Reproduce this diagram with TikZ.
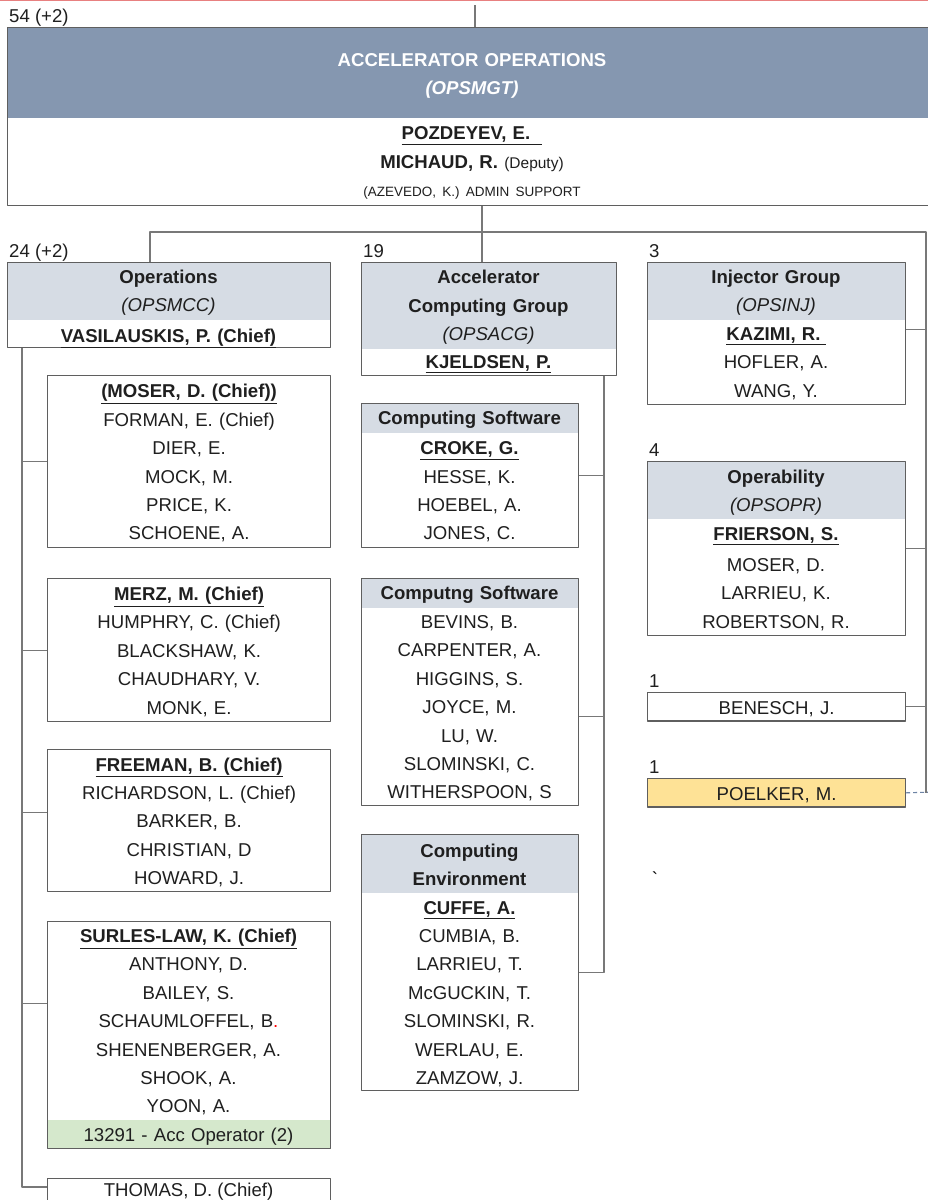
\documentclass[tikz,border=0pt]{standalone}
\usepackage{fontspec}
\setmainfont{Liberation Sans}
\definecolor{mgtblue}{RGB}{133,151,176}
\definecolor{hdrgray}{RGB}{214,220,228}
\definecolor{accgreen}{RGB}{213,232,204}
\definecolor{vacyellow}{RGB}{254,226,150}
\definecolor{linegray}{RGB}{120,120,120}
\definecolor{boxgray}{RGB}{95,95,95}
\definecolor{topred}{RGB}{232,128,128}
\definecolor{dashblue}{RGB}{110,132,165}
\newcommand\rowstrut{\rule[-7pt]{0pt}{28.4pt}}
\newcommand\chief[1]{\underline{\textbf{#1}}}
\tikzset{
  box/.style={draw=boxgray, line width=1.2pt, inner sep=0pt, anchor=north west},
  band/.style 2 args={path picture={\fill[#2] (path picture bounding box.north west) rectangle ([yshift=-#1pt]path picture bounding box.north east);}},
  hdr/.style={band={#1}{hdrgray}},
  foot/.style={path picture={\fill[accgreen] (path picture bounding box.south west) rectangle ([yshift=#1pt]path picture bounding box.south east);}},
  txt/.style={font=\fontsize{18.6}{28.4}\selectfont, text width=250pt, align=center, inner sep=0pt, text=black!88,
    execute at begin node=\rowstrut, execute at end node=\rowstrut},
  cnt/.style={font=\fontsize{18.6}{22}\selectfont, anchor=south west, inner sep=2pt, text depth=2.5pt, text=black!88},
  conn/.style={draw=linegray, line width=1.1pt},
}
\begin{document}
\begin{tikzpicture}[x=1pt, y=-1pt, line join=round]
\useasboundingbox (0,0) rectangle (928,1200);
\clip (0,0) rectangle (928,1200);
\fill[white] (0,0) rectangle (928,1200);
\draw[topred, line width=1.5pt] (0,0.6) -- (928,0.6);

% management box
\node[box, band={90}{mgtblue}, minimum width=930, minimum height=178, label={[cnt]north west:54 (+2)}] (mgt) at (7,27) {};
\node[txt, text=white, text width=320pt] (mgthead) at (472,73) {\textbf{ACCELERATOR OPERATIONS}\\\textbf{\textit{(OPSMGT)}}};
\node[txt] (mgtbody) at (472,161) {\chief{POZDEYEV, E.\hspace{12pt}}\\\textbf{MICHAUD, R.} {\fontsize{15.5}{18}\selectfont(Deputy)}\\{\fontsize{13.5}{16}\selectfont(AZEVEDO, K.) ADMIN SUPPORT}};

% operations
\node[box, hdr=57, minimum width=323, minimum height=85, label={[cnt]north west:24 (+2)}] (ops) at (7,262) {};
\node[txt] (opshead) at (168.5,290.5) {\textbf{Operations}\\\textit{(OPSMCC)}};
\node[txt] (opsbody) at (168.5,335) {\chief{VASILAUSKIS, P. (Chief)}};
\node[box, txt, text width=283pt, minimum height=172] (mos) at (47,375) {\chief{(MOSER, D. (Chief))}\\FORMAN, E. (Chief)\\DIER, E.\\MOCK, M.\\PRICE, K.\\SCHOENE, A.};
\node[box, txt, text width=283pt, minimum height=143] (mer) at (47,578) {\chief{MERZ, M. (Chief)}\\HUMPHRY, C. (Chief)\\BLACKSHAW, K.\\CHAUDHARY, V.\\MONK, E.};
\node[box, txt, text width=283pt, minimum height=142] (fre) at (47,749) {\chief{FREEMAN, B. (Chief)}\\RICHARDSON, L. (Chief)\\BARKER, B.\\CHRISTIAN, D\\HOWARD, J.};
\node[box, foot=29, minimum width=283, minimum height=227] (sur) at (47,921) {};
\node[txt] (surbody) at (188.5,1020.5) {\chief{SURLES-LAW, K. (Chief)}\\ANTHONY, D.\\BAILEY, S.\\SCHAUMLOFFEL, B\textcolor{red}{.}\\SHENENBERGER, A.\\SHOOK, A.\\YOON, A.};
\node[txt] (surfoot) at (188.5,1134) {13291 - Acc Operator (2)};
\node[box, minimum width=283, minimum height=40] (tho) at (47,1178) {};
\node[font=\fontsize{18.6}{22}\selectfont, inner sep=0pt, text=black!88] (thobody) at (188.5,1192) {THOMAS, D. (Chief)};

% computing
\node[box, hdr=86, minimum width=255, minimum height=113, label={[cnt]north west:19}] (acg) at (361,262) {};
\node[txt] (acghead) at (488.5,305) {\textbf{Accelerator}\\\textbf{Computing Group}\\\textit{(OPSACG)}};
\node[txt] (acgbody) at (488.5,361) {\chief{KJELDSEN, P.}};
\node[box, hdr=29, minimum width=217, minimum height=144] (cs1) at (361,403) {};
\node[txt] (cs1head) at (469.5,417.5) {\textbf{Computing Software}};
\node[txt] (cs1body) at (469.5,490) {\chief{CROKE, G.}\\HESSE, K.\\HOEBEL, A.\\JONES, C.};
\node[box, hdr=29, minimum width=217, minimum height=227] (cs2) at (361,578) {};
\node[txt] (cs2head) at (469.5,592.5) {\textbf{Computng Software}};
\node[txt] (cs2body) at (469.5,706.5) {BEVINS, B.\\CARPENTER, A.\\HIGGINS, S.\\JOYCE, M.\\LU, W.\\SLOMINSKI, C.\\WITHERSPOON, S};
\node[box, hdr=58, minimum width=217, minimum height=256] (ce) at (361,834) {};
\node[txt] (cehead) at (469.5,864) {\textbf{Computing}\\\textbf{Environment}};
\node[txt] (cebody) at (469.5,992) {\chief{CUFFE, A.}\\CUMBIA, B.\\LARRIEU, T.\\McGUCKIN, T.\\SLOMINSKI, R.\\WERLAU, E.\\ZAMZOW, J.};

% right column
\node[box, hdr=57, minimum width=258, minimum height=142, label={[cnt]north west:3}] (inj) at (647,262) {};
\node[txt] (injhead) at (776,290.5) {\textbf{Injector Group}\\\textit{(OPSINJ)}};
\node[txt] (injbody) at (776,361.5) {\chief{KAZIMI, R.\hspace{5pt}}\\HOFLER, A.\\WANG, Y.};
\node[box, hdr=57, minimum width=258, minimum height=174, label={[cnt]north west:4}] (opr) at (647,461) {};
\node[txt] (oprhead) at (776,490) {\textbf{Operability}\\\textit{(OPSOPR)}};
\node[txt] (oprbody) at (776,577) {\chief{FRIERSON, S.}\\[3pt]MOSER, D.\\LARRIEU, K.\\ROBERTSON, R.};
\node[box, txt, text width=258pt, minimum height=28, label={[cnt]north west:1}] (ben) at (647,692) {BENESCH, J.};
\node[box, txt, text width=258pt, fill=vacyellow, minimum height=28, label={[cnt]north west:1}] (poel) at (647,778) {POELKER, M.};
\node[font=\fontsize{18.6}{22}\selectfont, inner sep=0pt] (tick) at (655,879) {\textasciigrave};

% connectors
\coordinate (topend) at (475,5);
\coordinate (busl) at (150,232);
\coordinate (busm) at (482,232);
\coordinate (busr) at (926,232);
\coordinate (acgv) at (604,0);
\coordinate (opsv) at (22,0);
\coordinate (injport) at ([yshift=4pt]inj.east);
\coordinate (cs2port) at ([yshift=-24pt]cs2.east);
\coordinate (ceport) at ([yshift=-10pt]ce.east);
\coordinate (freport) at ([yshift=8pt]fre.west);
\coordinate (surport) at ([yshift=31.5pt]sur.west);
\coordinate (thoport) at (tho.west |- 0,1187);
\coordinate (poelend) at (935,792);
\draw[conn] (topend) -- (topend |- mgt.north);
\draw[conn] (mgt.south -| busm) -- (busm |- acg.north);
\draw[conn] (busl |- ops.north) -- (busl) -- (busr) -- (busr |- poel.east);
\draw[conn] (injport) -- (injport -| busr);
\draw[conn] (opr.east) -- (opr.east -| busr);
\draw[conn] (ben.east) -- (ben.east -| busr);
\draw[dashblue, line width=1.1pt, dash pattern=on 4pt off 3pt] (poel.east) -- (poelend);
\draw[conn] (acg.south -| acgv) -- (acgv |- ceport) -- (ceport);
\draw[conn] (cs1.east) -- (cs1.east -| acgv);
\draw[conn] (cs2port) -- (cs2port -| acgv);
\draw[conn] (ops.south -| opsv) -- (opsv |- thoport) -- (thoport);
\draw[conn] (mos.west) -- (mos.west -| opsv);
\draw[conn] (mer.west) -- (mer.west -| opsv);
\draw[conn] (freport) -- (freport -| opsv);
\draw[conn] (surport) -- (surport -| opsv);
\end{tikzpicture}
\end{document}
